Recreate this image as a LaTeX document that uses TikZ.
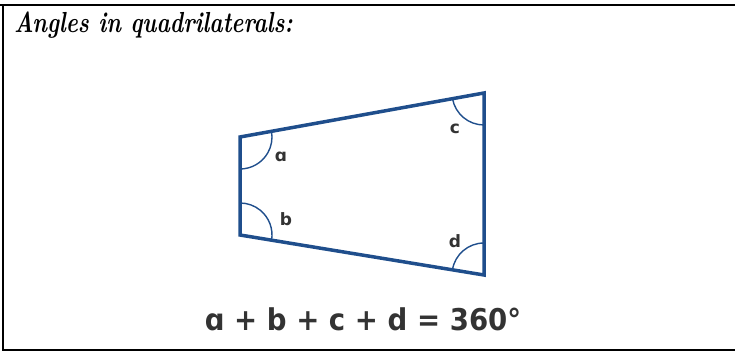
\documentclass[tikz,border=0pt]{standalone}
\usepackage{fontspec}
\setsansfont{DejaVu Sans}
\usetikzlibrary{angles}
\definecolor{quadblue}{HTML}{1F4E8C}
\definecolor{lblgrey}{HTML}{333333}
\newcommand{\lblfont}{\sffamily\bfseries\fontsize{17}{19}\selectfont}
\newcommand{\narrow}[2][0.9]{\scalebox{#1}[1]{#2}}

\begin{document}
\begin{tikzpicture}[
  x=1pt, y=-1pt,
  frame/.style={line width=2.5pt, black},
  side/.style={line width=3.5pt, quadblue, line join=miter},
  anglemark/.style={draw=quadblue, line width=1.4pt, angle radius=32pt},
  lbl/.style={font=\lblfont, text=lblgrey, inner sep=0pt},
  title/.style={font=\bfseries\itshape\fontsize{29}{34}\selectfont, anchor=base west, inner sep=0pt},
  sum/.style={font=\sffamily\bfseries\fontsize{30}{34}\selectfont, text=lblgrey, anchor=base, inner sep=0pt},
]
  \useasboundingbox (0,0) rectangle (735,352);
  \draw[frame] (0,5) -- (735,5);
  \draw[frame] (3,5) -- (3,350) -- (735,350);

  \node[title] (head) at (14,33) {\narrow[0.78]{Angles in quadrilaterals:}};

  \coordinate (TL) at (240,137);
  \coordinate (TR) at (484,93);
  \coordinate (BR) at (484,275);
  \coordinate (BL) at (240,235);
  \draw[side] (TL) -- (TR) -- (BR) -- (BL) -- cycle;

  \pic[anglemark] {angle = BL--TL--TR};
  \pic[anglemark] {angle = BR--BL--TL};
  \pic[anglemark] {angle = TL--TR--BR};
  \pic[anglemark] {angle = TR--BR--BL};

  \node[lbl] (la) at (281,157) {ɑ};
  \node[lbl] (lb) at (286,219) {b};
  \node[lbl] (lc) at (455,129) {c};
  \node[lbl] (ld) at (455,241) {d};

  \node[sum] (total) at (363,330) {\narrow[0.92]{ɑ + b + c + d = 360°}};
\end{tikzpicture}
\end{document}
